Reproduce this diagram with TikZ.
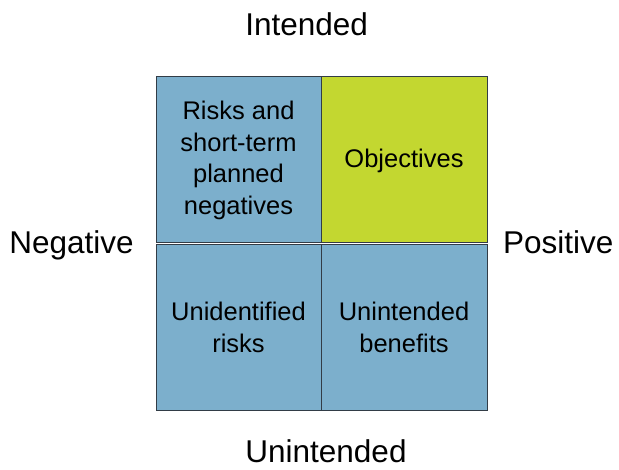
\documentclass[tikz,border=0pt]{standalone}
\usepackage{fontspec}
\setmainfont{Liberation Sans}
\definecolor{cellblue}{RGB}{124,175,204}
\definecolor{cellgreen}{RGB}{195,215,48}
\definecolor{edge}{RGB}{50,60,70}
\begin{document}
\begin{tikzpicture}[x=1pt,y=1pt,
  cell/.style={draw=edge,line width=0.9pt},
  celltext/.style={align=center,font=\fontsize{25.5}{31.7}\selectfont,inner sep=0pt},
  axislabel/.style={anchor=base,font=\fontsize{31.5}{36}\selectfont,inner sep=0pt}]
\useasboundingbox (0,0) rectangle (619,470);
% cells
\path[cell,fill=cellblue] (156,394) rectangle (321,227.5);
\path[cell,fill=cellgreen] (321,394) rectangle (487,227.5);
\path[cell,fill=cellblue] (156,226) rectangle (321,60);
\path[cell,fill=cellblue] (321,226) rectangle (487,60);
\draw[edge,line width=0.9pt] (156,227.5) -- (487,227.5);
% cell texts
\node[celltext] (rn) at (238.5,309.5) {Risks and\\short-term\\planned\\negatives};
\node[celltext] (ob) at (404,309.5) {Objectives};
\node[celltext] (ur) at (238.5,142.5) {Unidentified\\risks};
\node[celltext] (ub) at (404,142.5) {Unintended\\benefits};
% axis labels
\node[axislabel] (int) at (306.7,434) {Intended};
\node[axislabel] (neg) at (71.5,216.7) {Negative};
\node[axislabel] (pos) at (558.3,216.7) {Positive};
\node[axislabel] (unint) at (326,7.5) {Unintended};
\end{tikzpicture}
\end{document}
